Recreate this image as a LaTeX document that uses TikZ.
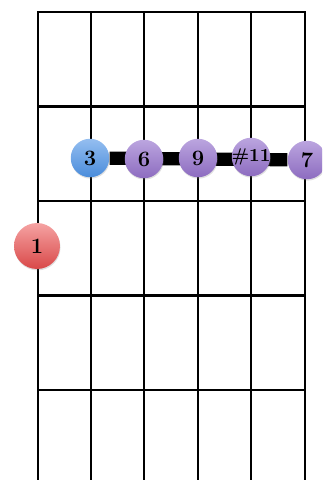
\documentclass[tikz,border=0pt]{standalone}
\usetikzlibrary{backgrounds, shadows}
\definecolor{thirdtop}{HTML}{94BEF0}
\definecolor{thirdbot}{HTML}{4A8CDB}
\definecolor{exttop}{HTML}{BBA5DF}
\definecolor{extbot}{HTML}{8D6CC0}
\definecolor{roottop}{HTML}{F5A3A3}
\definecolor{rootbot}{HTML}{D94848}

\begin{document}
\begin{tikzpicture}[x=0.02cm, y=-0.02cm]

\tikzset{fret/.style = {line width=1.2pt, black}}
\tikzset{dot/.style = {shape=circle, minimum size=0.77cm, inner sep=0pt,
  font=\fontsize{12.5}{14}\selectfont\bfseries, drop shadow={opacity=0.25, shadow xshift=0.3pt, shadow yshift=-0.8pt}}}
\tikzset{third/.style = {dot, top color=thirdtop, bottom color=thirdbot}}
\tikzset{ext/.style = {dot, top color=exttop, bottom color=extbot}}
\tikzset{root/.style = {dot, minimum size=0.92cm, top color=roottop, bottom color=rootbot}}
\tikzset{bar/.style = {line width=7.5pt, black}}

\clip (0,0) rectangle (322,480);
%notes
\node[third] (n3) at (90,158) {3};
\node[ext] (n6) at (144,159) {6};
\node[ext] (n9) at (198,158) {9};
\node[ext, inner sep=-3pt, font=\fontsize{10.5}{12}\selectfont\bfseries] (n11) at (251,157) {\#11};
\node[ext] (n7) at (307,160) {7};
\node[root] (n1) at (37,246) {1};
%strings and frets
\begin{scope}[on background layer]
\foreach \x in {38,91,144,198,251,305}
  \draw[fret] (\x,12) -- (\x,482);
\foreach \y in {12,106.5,201,295.5,390}
  \draw[fret] (37.4,\y) -- (305.6,\y);
%barre
\draw[bar] (n3) -- (n7);
\end{scope}

\end{tikzpicture}
\end{document}
